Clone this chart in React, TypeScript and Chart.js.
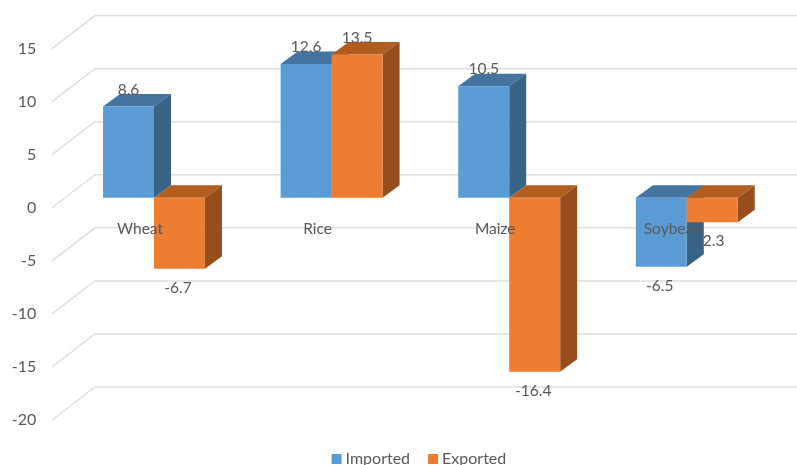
import React, { useEffect, useRef } from "react";
import { Chart, registerables } from "chart.js";

Chart.register(...registerables);

const categories = ["Wheat", "Rice", "Maize", "Soybean"];
const imported = [8.6, 12.6, 10.5, -6.5];
const exported = [-6.7, 13.5, -16.4, -2.3];

const FONT = "Lato, Carlito, sans-serif";
const TEXT = "#595959";
const GRID = "#e0e0e0";
const FACES = [
  { front: "#5B9BD5", top: "#44749F", side: "#386387" },
  { front: "#ED7D31", top: "#B15D20", side: "#964F1C" },
];
const DEPTH_X = 17;
const DEPTH_Y = 12.5;
const LEGEND_SHIFT_X = 0.5;
const LEGEND_SHIFT_Y = 19;

const poly = (ctx: CanvasRenderingContext2D, pts: number[][], fill: string) => {
  ctx.fillStyle = fill;
  ctx.beginPath();
  pts.forEach(([x, y], i) => (i ? ctx.lineTo(x, y) : ctx.moveTo(x, y)));
  ctx.closePath();
  ctx.fill();
};

const threeD = {
  id: "threeD",
  afterLayout(chart: any) {
    const l = chart.legend;
    l.top += LEGEND_SHIFT_Y;
    l.bottom += LEGEND_SHIFT_Y;
    l.left += LEGEND_SHIFT_X;
    l.right += LEGEND_SHIFT_X;
  },
  beforeDatasetsDraw(chart: any) {
    const { ctx, scales } = chart;
    const y = scales.y;
    ctx.save();
    ctx.strokeStyle = GRID;
    ctx.lineWidth = 1.5;
    for (const t of y.ticks) {
      const py = y.getPixelForValue(t.value);
      ctx.beginPath();
      ctx.moveTo(52, py + 10);
      ctx.lineTo(95, py - 23);
      ctx.lineTo(chart.width, py - 23);
      ctx.stroke();
    }
    ctx.restore();
  },
  beforeDatasetDraw() {
    return false;
  },
  afterDatasetsDraw(chart: any) {
    const { ctx } = chart;
    ctx.save();
    chart.data.datasets.forEach((ds: any, di: number) => {
      const c = FACES[di];
      chart.getDatasetMeta(di).data.forEach((bar: any) => {
        const l = bar.x - bar.width / 2;
        const r = bar.x + bar.width / 2;
        const t = Math.min(bar.y, bar.base);
        const b = Math.max(bar.y, bar.base);
        poly(ctx, [[l, t], [r, t], [r + DEPTH_X, t - DEPTH_Y], [l + DEPTH_X, t - DEPTH_Y]], c.top);
        poly(ctx, [[r, t], [r + DEPTH_X, t - DEPTH_Y], [r + DEPTH_X, b - DEPTH_Y], [r, b]], c.side);
        poly(ctx, [[l, t], [r, t], [r, b], [l, b]], c.front);
      });
    });
    ctx.fillStyle = TEXT;
    ctx.font = `15.5px ${FONT}`;
    ctx.textAlign = "center";
    ctx.textBaseline = "middle";
    chart.data.datasets.forEach((ds: any, di: number) => {
      chart.getDatasetMeta(di).data.forEach((bar: any, i: number) => {
        const v = ds.data[i];
        ctx.fillText(v.toFixed(1), bar.x - (v < 0 ? 1.5 : 0), v < 0 ? bar.y + 19 : bar.y - 17);
      });
    });
    ctx.restore();
  },
};

export default function App() {
  const ref = useRef<HTMLCanvasElement>(null);
  useEffect(() => {
    const chart = new Chart(ref.current!, {
      type: "bar",
      plugins: [threeD],
      data: {
        labels: categories,
        datasets: [
          { label: "Imported", data: imported, backgroundColor: FACES[0].front, borderColor: FACES[0].front, borderWidth: 8 },
          { label: "Exported", data: exported, backgroundColor: FACES[1].front, borderColor: FACES[1].front, borderWidth: 8 },
        ],
      },
      options: {
        responsive: false,
        animation: false,
        categoryPercentage: 0.574,
        barPercentage: 1,
        layout: { padding: { top: 38.4, right: 21.4, left: 0, bottom: 7 } },
        plugins: {
          tooltip: { enabled: false },
          legend: {
            position: "bottom",
            fullSize: false,
            labels: {
              boxWidth: 2,
              boxHeight: 2,
              padding: 22,
              color: TEXT,
              font: { family: FONT, size: 16 },
            },
          },
        },
        scales: {
          x: {
            position: { y: 0 },
            grid: { display: false, drawTicks: false },
            border: { display: false },
            afterFit: (s: any) => {
              s.height = 0;
            },
            ticks: {
              z: 1,
              padding: 22,
              labelOffset: -14,
              autoSkip: false,
              maxRotation: 0,
              color: TEXT,
              font: { family: FONT, size: 15.5 },
            },
          },
          y: {
            min: -20,
            max: 15,
            grid: { display: false, drawTicks: false },
            border: { display: false },
            afterFit: (s: any) => {
              s.width = 65.2;
            },
            ticks: {
              stepSize: 5,
              padding: 29,
              labelOffset: 10,
              color: TEXT,
              font: { family: FONT, size: 16 },
            },
          },
        },
      } as any,
    });
    return () => chart.destroy();
  }, []);
  return (
    <canvas
      ref={ref}
      width={797}
      height={465}
      style={{ position: "absolute", left: 0, top: 0, width: 797, height: 465, display: "block" }}
    />
  );
}
